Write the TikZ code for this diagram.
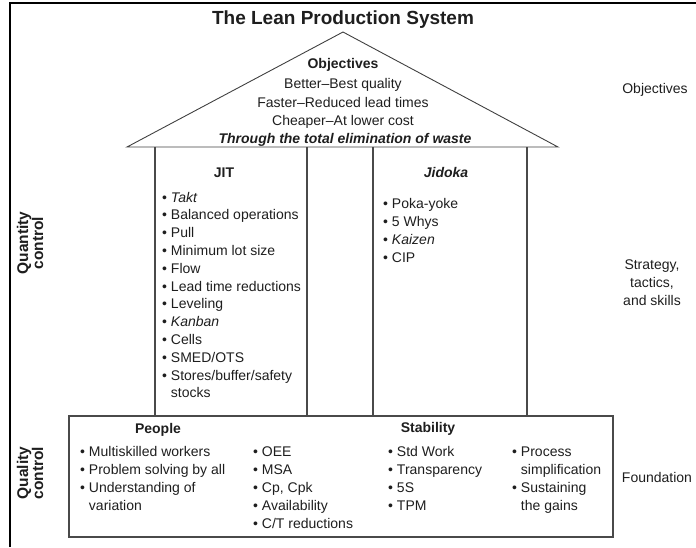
\documentclass[tikz,border=0pt]{standalone}
\usepackage{fontspec}
\setmainfont{Liberation Sans}
\definecolor{ink}{HTML}{1E1E1E}
\definecolor{rule}{HTML}{4A4A4A}
\newcommand{\bl}{\textbullet\ }
\newcommand{\cont}{\phantom{\textbullet\ }}
\begin{document}
\begin{tikzpicture}[x=1pt,y=-1pt,
  txt/.style={font=\fontsize{14}{18}\selectfont, text=ink, inner sep=0pt},
  bold/.style={txt, font=\fontsize{14}{18}\selectfont\bfseries},
  % multi-line lists are placed by the baseline of their LAST line
  lst/.style={txt, align=left, anchor=base west},
  ctr/.style={txt, align=center, anchor=base},
  sidelbl/.style={txt, font=\fontsize{15.5}{15}\selectfont\bfseries, align=center, rotate=90, anchor=center},
  wall/.style={draw=rule, line width=1.2pt},
  roofline/.style={draw=ink!85, line width=0.9pt, line join=miter}]
\useasboundingbox (0,0) rectangle (696,547);

% outer frame (top and left edges only)
\draw[line width=2pt, black] (10,547) -- (10,3) -- (696,3);

% title
\node[txt, font=\fontsize{19}{22}\selectfont\bfseries, anchor=base] (title) at (343,24) {The Lean Production System};

% roof
\coordinate (roofL) at (127,147);
\coordinate (apex) at (343,32);
\coordinate (roofR) at (558,147);
\draw[roofline] (roofL) -- (apex) -- (roofR) -- cycle;

% pillars
\coordinate (p1t) at (155,147); \coordinate (p1b) at (155,416);
\coordinate (p2t) at (307,147); \coordinate (p2b) at (307,416);
\coordinate (p3t) at (373,147); \coordinate (p3b) at (373,416);
\coordinate (p4t) at (527,147); \coordinate (p4b) at (527,416);
\draw[wall] (p1t) -- (p1b) (p2t) -- (p2b) (p3t) -- (p3b) (p4t) -- (p4b);

% foundation
\coordinate (fNW) at (69,416);
\coordinate (fSE) at (613,537);
\draw[wall] (fNW) rectangle (fSE);

% roof text
\node[bold, anchor=base] (obj) at (343,68) {Objectives};
\node[ctr] (better) at (343,88) {Better–Best quality};
\node[ctr] (faster) at (343,107) {Faster–Reduced lead times};
\node[ctr] (cheaper) at (343,125) {Cheaper–At lower cost};
\node[bold, anchor=base, font=\fontsize{14}{18}\selectfont\bfseries\itshape] (waste) at (345,143) {Through the total elimination of waste};

% JIT pillar
\node[bold, anchor=base] (jit) at (224,177) {JIT};
\node[lst, font=\fontsize{14}{17.8}\selectfont] (jitlist) at (162,397.8) {%
\bl\textit{Takt}\\
\bl Balanced operations\\
\bl Pull\\
\bl Minimum lot size\\
\bl Flow\\
\bl Lead time reductions\\
\bl Leveling\\
\bl\textit{Kanban}\\
\bl Cells\\
\bl SMED/OTS\\
\bl Stores/buffer/safety\\
\cont stocks};

% Jidoka pillar
\node[bold, anchor=base, font=\fontsize{14}{18}\selectfont\bfseries\itshape] (jidoka) at (446,177) {Jidoka};
\node[lst] (jidlist) at (383,262) {%
\bl Poka-yoke\\
\bl 5 Whys\\
\bl\textit{Kaizen}\\
\bl CIP};

% foundation text
\node[bold, anchor=base] (people) at (158,433) {People};
\node[bold, anchor=base] (stability) at (428,432) {Stability};
\node[lst] (pcol1) at (80,510) {%
\bl Multiskilled workers\\
\bl Problem solving by all\\
\bl Understanding of\\
\cont variation};
\node[lst] (pcol2) at (253,528) {%
\bl OEE\\
\bl MSA\\
\bl Cp, Cpk\\
\bl Availability\\
\bl C/T reductions};
\node[lst] (scol1) at (388,510) {%
\bl Std Work\\
\bl Transparency\\
\bl 5S\\
\bl TPM};
\node[lst] (scol2) at (512,510) {%
\bl Process\\
\cont simplification\\
\bl Sustaining\\
\cont the gains};

% side labels
\node[sidelbl] (qty) at (30,243) {Quantity\\control};
\node[sidelbl] (qual) at (30,473) {Quality\\control};
\node[txt, anchor=center] (lvl1) at (655,90) {Objectives};
\node[txt, align=center, anchor=center] (lvl2) at (652,283) {Strategy,\\tactics,\\and skills};
\node[txt, anchor=center] (lvl3) at (657,477) {Foundation};
\end{tikzpicture}
\end{document}
